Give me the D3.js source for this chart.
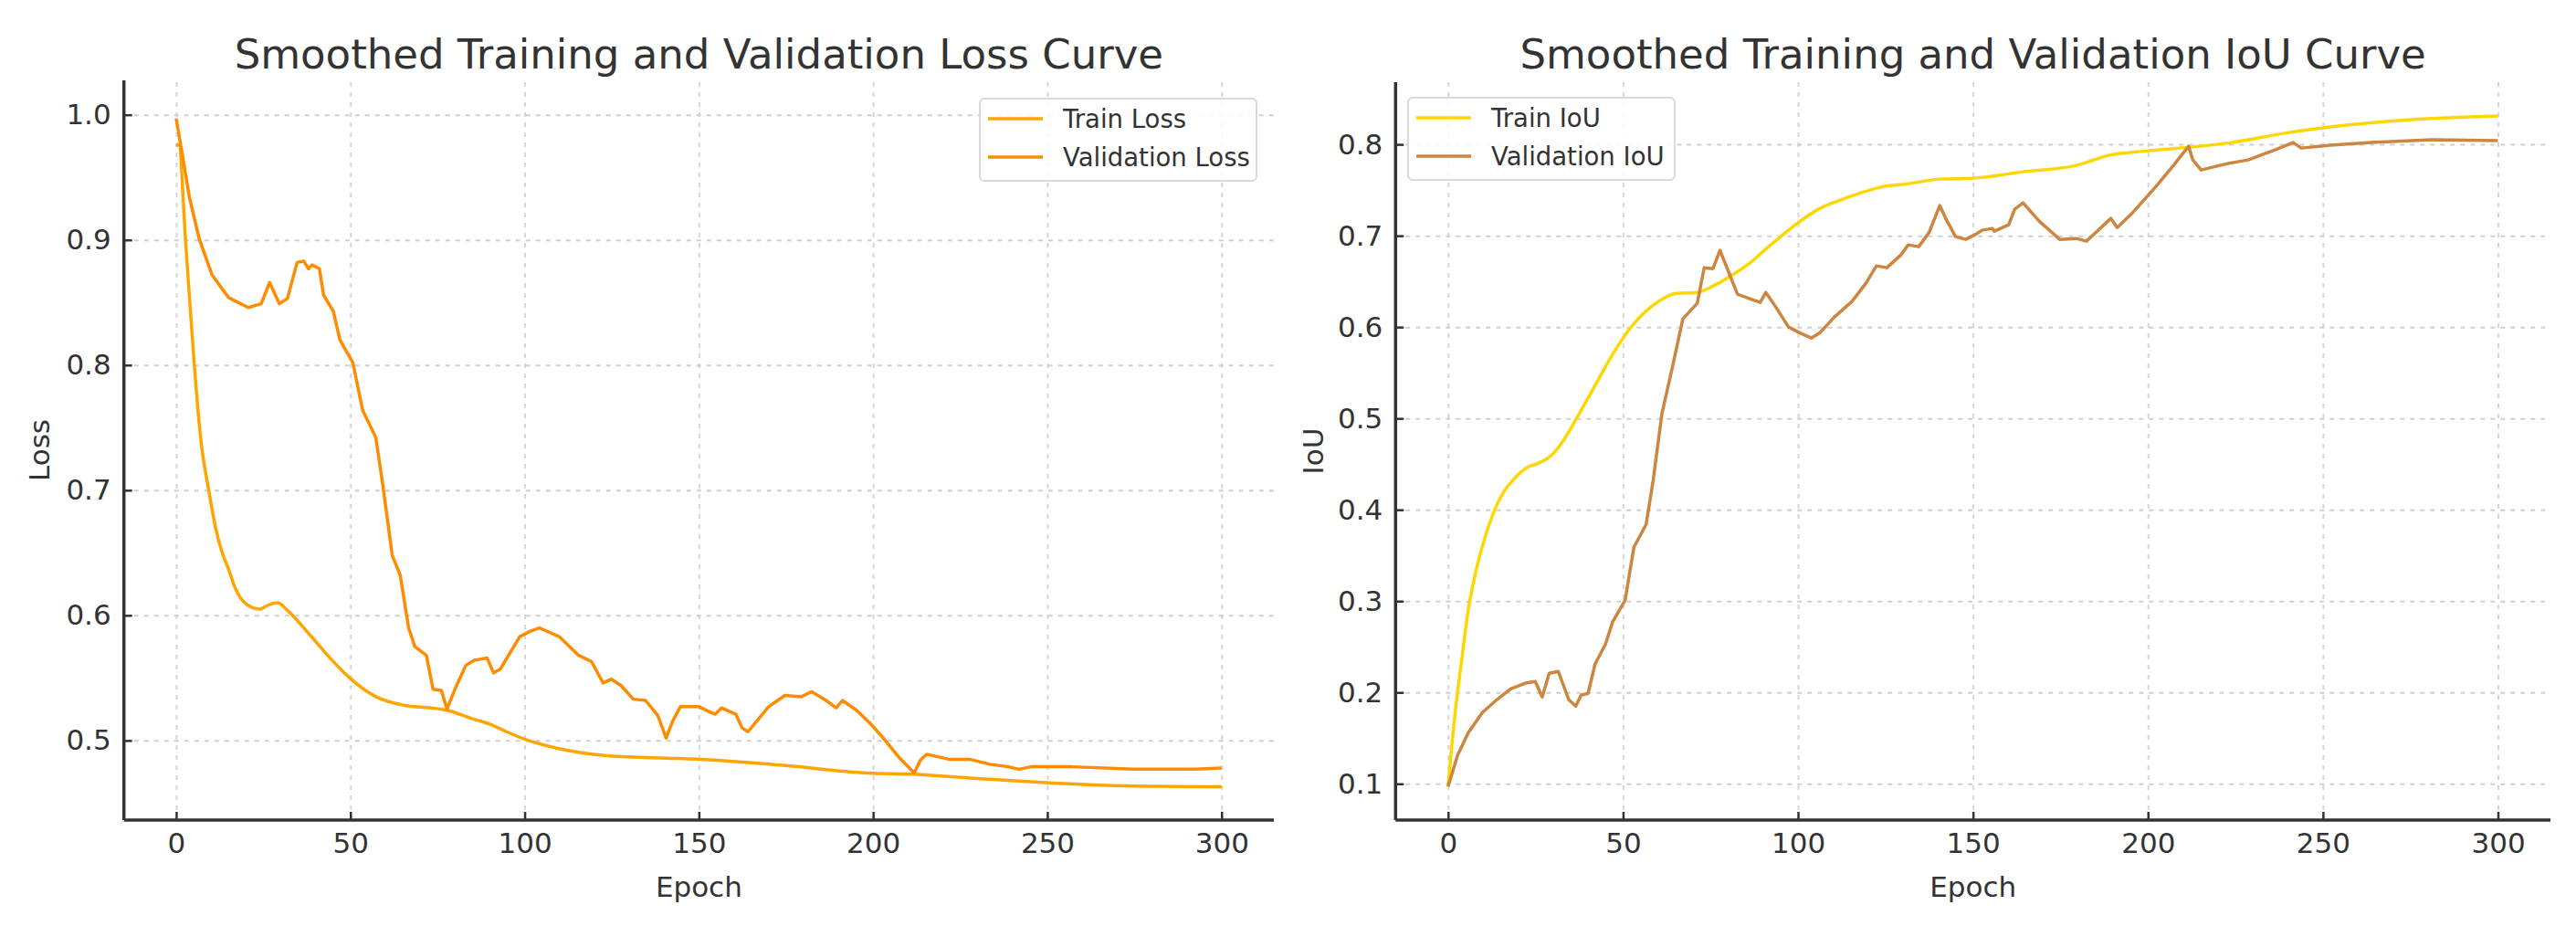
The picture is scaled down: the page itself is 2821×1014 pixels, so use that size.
<!DOCTYPE html>
<html>
<head>
<meta charset="utf-8">
<script src="https://cdn.jsdelivr.net/npm/d3@7"></script>
<style>
  html, body { margin: 0; padding: 0; background: #fff; }
  svg { display: block; font-family: "DejaVu Sans", sans-serif; }
</style>
</head>
<body>
<svg id="chart"></svg>
<script>
// epochs shown on the x axis
const epochTicks = [0, 50, 100, 150, 200, 250, 300];
const lossTicks = [0.5, 0.6, 0.7, 0.8, 0.9, 1.0];
const iouTicks = [0.1, 0.2, 0.3, 0.4, 0.5, 0.6, 0.7, 0.8];

// smoothed loss curves
const trainLossEpochs = [0, 0.7, 2.8, 5.2, 7.0, 9.4, 11.3, 13.1, 15.0, 16.9, 19.7, 23.9, 26.3, 29.1, 31.9, 38.5, 44.1, 49.8, 57.3, 65.7, 73.2, 77.9, 85.4, 90.1, 94.8, 100, 108.9, 123, 138.8, 150, 174.7, 198.2, 211.8, 227.6, 245.3, 268.8, 300];
const trainLoss = [0.975, 0.976, 0.895, 0.800, 0.742, 0.699, 0.670, 0.651, 0.637, 0.622, 0.610, 0.605, 0.608, 0.610, 0.604, 0.584, 0.566, 0.550, 0.535, 0.528, 0.526, 0.524, 0.517, 0.513, 0.507, 0.501, 0.494, 0.488, 0.486, 0.485, 0.480, 0.474, 0.473, 0.470, 0.467, 0.464, 0.463];

const valLossEpochs = [0, 1.4, 3.8, 6.6, 10.3, 15.0, 20.7, 24.4, 26.8, 29.6, 31.9, 34.7, 36.6, 38.0, 39.0, 41.1, 42.3, 45.1, 47.0, 50.7, 53.5, 57.3, 59.2, 62.0, 64.3, 66.7, 68.5, 71.8, 73.7, 76.1, 77.7, 80.3, 83.1, 85.4, 89.2, 91.1, 93.0, 95.8, 98.6, 101.4, 104.2, 109.9, 115.5, 119.2, 122.5, 124.9, 127.6, 131.2, 134.7, 138.2, 140.6, 142.4, 144.7, 150, 153, 154.7, 156.5, 160.6, 162.4, 164.1, 170, 174.7, 179.4, 182.4, 186.5, 189.4, 191.2, 195.3, 199.4, 202.9, 207.6, 211.8, 213.5, 215.3, 221.8, 227.6, 233.5, 238.8, 241.8, 245.3, 257.1, 274.7, 292.4, 300];
const valLoss = [0.997, 0.974, 0.934, 0.901, 0.872, 0.854, 0.846, 0.849, 0.866, 0.849, 0.853, 0.882, 0.883, 0.877, 0.880, 0.877, 0.856, 0.843, 0.820, 0.802, 0.764, 0.742, 0.706, 0.648, 0.632, 0.590, 0.575, 0.568, 0.541, 0.540, 0.525, 0.543, 0.560, 0.564, 0.566, 0.554, 0.557, 0.570, 0.583, 0.587, 0.590, 0.583, 0.568, 0.563, 0.546, 0.549, 0.544, 0.533, 0.532, 0.520, 0.502, 0.515, 0.527, 0.527, 0.523, 0.521, 0.526, 0.521, 0.510, 0.507, 0.527, 0.536, 0.535, 0.539, 0.532, 0.526, 0.532, 0.524, 0.513, 0.502, 0.486, 0.474, 0.484, 0.489, 0.485, 0.485, 0.481, 0.479, 0.477, 0.479, 0.479, 0.477, 0.477, 0.478];

// smoothed IoU curves
const trainIouEpochs = [0, 1.8, 3.8, 5.8, 7.8, 10.9, 14.9, 18.9, 22.9, 25.9, 29.9, 33.0, 37.0, 42.0, 47.0, 51.1, 56.1, 60.1, 65.1, 71.2, 76.2, 81.2, 86.2, 91.3, 96.3, 100.3, 106.3, 111.4, 116.4, 123.4, 131.5, 140.5, 150, 164.3, 179.5, 188.8, 200, 212.2, 223.9, 240.3, 252, 275.4, 300];
const trainIou = [0.097, 0.170, 0.233, 0.291, 0.330, 0.374, 0.413, 0.434, 0.447, 0.451, 0.461, 0.476, 0.502, 0.536, 0.570, 0.594, 0.616, 0.628, 0.637, 0.638, 0.646, 0.657, 0.670, 0.687, 0.703, 0.715, 0.730, 0.738, 0.745, 0.753, 0.757, 0.762, 0.763, 0.770, 0.777, 0.788, 0.793, 0.797, 0.802, 0.813, 0.819, 0.827, 0.831];

const valIouEpochs = [0, 2.8, 5.8, 9.8, 13.9, 17.9, 21.9, 24.9, 26.9, 28.9, 31.5, 34.5, 36.5, 38.0, 40.0, 42.0, 45.0, 47.0, 50.6, 53.1, 56.6, 58.6, 61.1, 64.1, 67.1, 71.2, 73.2, 75.7, 77.7, 80.2, 82.7, 86.2, 89.2, 90.8, 93.3, 97.3, 100.3, 103.8, 106.3, 110.4, 115.4, 119.4, 122.4, 125.4, 129.4, 131.5, 134.5, 137.5, 140.5, 142.6, 145, 147.9, 150.5, 152.6, 155.5, 156.1, 160.2, 161.9, 164.3, 168.9, 174.8, 179.5, 182.4, 189.4, 191.2, 195.8, 202.3, 207.5, 211.6, 212.8, 215.2, 222.7, 228.6, 235.6, 241.5, 243.8, 252, 263.7, 281.2, 300];
const valIou = [0.097, 0.132, 0.156, 0.178, 0.192, 0.204, 0.210, 0.212, 0.195, 0.221, 0.223, 0.192, 0.185, 0.197, 0.199, 0.231, 0.253, 0.277, 0.301, 0.359, 0.384, 0.432, 0.505, 0.556, 0.609, 0.626, 0.665, 0.664, 0.684, 0.660, 0.636, 0.631, 0.627, 0.638, 0.624, 0.600, 0.594, 0.588, 0.594, 0.611, 0.628, 0.648, 0.667, 0.665, 0.679, 0.690, 0.688, 0.704, 0.733, 0.716, 0.699, 0.696, 0.701, 0.706, 0.708, 0.705, 0.712, 0.729, 0.736, 0.716, 0.696, 0.697, 0.694, 0.719, 0.709, 0.726, 0.754, 0.778, 0.798, 0.783, 0.772, 0.779, 0.783, 0.793, 0.802, 0.796, 0.799, 0.802, 0.805, 0.804];

const W = 2821, H = 1014;
const svg = d3.select("#chart").attr("width", W).attr("height", H);
const textColor = "#333";

function drawPanel(p) {
    const width = p.right - p.left;
    const height = p.bottom - p.top;
    const g = svg.append("g").attr("transform", `translate(${p.left},${p.top})`);

    const x = d3.scaleLinear().domain([-15, 315]).range([0, width]);
    const y = d3.scaleLinear().domain(p.yDomain).range([height, 0]);

    // grid
    g.append("g")
        .attr("transform", `translate(0,${height})`)
        .call(d3.axisBottom(x).tickValues(epochTicks).tickSize(-height).tickFormat(""))
        .call(a => a.select(".domain").remove())
        .call(a => a.selectAll("line").attr("stroke", "#d6d6d6").attr("stroke-width", 2).attr("stroke-dasharray", "5,6"));
    g.append("g")
        .call(d3.axisLeft(y).tickValues(p.yTicks).tickSize(-width).tickFormat(""))
        .call(a => a.select(".domain").remove())
        .call(a => a.selectAll("line").attr("stroke", "#cfcfcf").attr("stroke-width", 2).attr("stroke-dasharray", "5,6"));

    // lines
    p.series.forEach(s => {
        const pts = s.epochs.map((e, i) => [e, s.values[i]]);
        g.append("path")
            .datum(pts)
            .attr("fill", "none")
            .attr("stroke", s.color)
            .attr("stroke-width", 3.5)
            .attr("stroke-linejoin", "round")
            .attr("d", d3.line().x(d => x(d[0])).y(d => y(d[1])).curve(s.smooth ? d3.curveMonotoneX : d3.curveLinear));
    });

    // axes (ticks point inward)
    const xAxis = g.append("g")
        .attr("transform", `translate(0,${height})`)
        .call(d3.axisBottom(x).tickValues(epochTicks).tickSizeInner(-9).tickSizeOuter(0).tickPadding(14));
    const yAxis = g.append("g")
        .call(d3.axisLeft(y).tickValues(p.yTicks).tickSizeInner(-9).tickSizeOuter(0).tickPadding(14).tickFormat(d3.format(".1f")));
    [xAxis, yAxis].forEach(a => {
        a.select(".domain").attr("stroke", textColor).attr("stroke-width", 3.5);
        a.selectAll(".tick line").attr("stroke", textColor).attr("stroke-width", 2.5);
        a.selectAll("text").attr("fill", textColor).style("font-size", "31px").style("font-family", "DejaVu Sans");
    });
    // spines only on the left and bottom; left spine runs to the top
    xAxis.select(".domain").attr("d", `M0,0H${width}`);
    yAxis.select(".domain").attr("d", `M0,0V${height}`);

    svg.append("text")
        .attr("x", p.left + width / 2)
        .attr("y", 75)
        .attr("text-anchor", "middle")
        .attr("fill", textColor)
        .style("font-size", "45px")
        .text(p.title);

    svg.append("text")
        .attr("x", p.left + width / 2)
        .attr("y", 982)
        .attr("text-anchor", "middle")
        .attr("fill", textColor)
        .style("font-size", "31px")
        .text("Epoch");

    svg.append("text")
        .attr("transform", `translate(${p.yLabelX},${p.top + height / 2}) rotate(-90)`)
        .attr("text-anchor", "middle")
        .attr("dy", "0.35em")
        .attr("fill", textColor)
        .style("font-size", "31px")
        .text(p.yLabel);

    // legend
    const lg = svg.append("g").attr("transform", `translate(${p.legend.x},${p.legend.y})`);
    lg.append("rect")
        .attr("width", p.legend.w).attr("height", 90)
        .attr("rx", 5)
        .attr("fill", "#fff").attr("fill-opacity", 0.85)
        .attr("stroke", "#d9d9d9").attr("stroke-width", 2);
    p.series.forEach((s, i) => {
        const ly = 22 + i * 42;
        lg.append("line")
            .attr("x1", 9).attr("x2", 69).attr("y1", ly).attr("y2", ly)
            .attr("stroke", s.color).attr("stroke-width", 3.5);
        lg.append("text")
            .attr("x", 91).attr("y", ly).attr("dy", "0.35em")
            .attr("fill", textColor)
            .style("font-size", "27.5px")
            .text(s.name);
    });
}

drawPanel({
    left: 135.7, right: 1395, top: 88, bottom: 898,
    yDomain: [0.4364, 1.0275], yTicks: lossTicks,
    title: "Smoothed Training and Validation Loss Curve",
    yLabel: "Loss", yLabelX: 43,
    legend: { x: 1073, y: 108, w: 303 },
    series: [
        { name: "Train Loss", epochs: trainLossEpochs, values: trainLoss, color: "#FFA500", smooth: true },
        { name: "Validation Loss", epochs: valLossEpochs, values: valLoss, color: "#FF8C00", smooth: false }
    ]
});

drawPanel({
    left: 1528.3, right: 2793, top: 90, bottom: 898,
    yDomain: [0.0603, 0.8681], yTicks: iouTicks,
    title: "Smoothed Training and Validation IoU Curve",
    yLabel: "IoU", yLabelX: 1438,
    legend: { x: 1542, y: 107, w: 292 },
    series: [
        { name: "Train IoU", epochs: trainIouEpochs, values: trainIou, color: "#FFD700", smooth: true },
        { name: "Validation IoU", epochs: valIouEpochs, values: valIou, color: "#CD853F", smooth: false }
    ]
});
</script>
</body>
</html>
